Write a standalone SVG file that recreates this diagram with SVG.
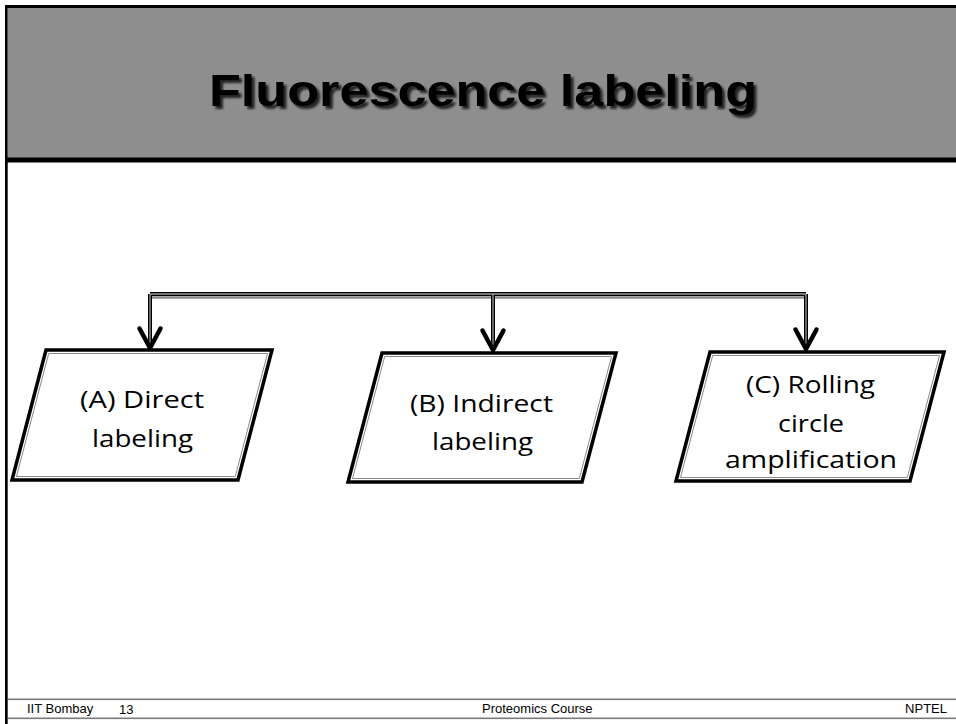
<svg xmlns="http://www.w3.org/2000/svg" width="956" height="724" viewBox="0 0 956 724">
<defs>
<filter id="tshadow" x="-10%" y="-30%" width="120%" height="160%">
<feGaussianBlur in="SourceAlpha" stdDeviation="1.2" result="b"/>
<feOffset in="b" dx="2.5" dy="2.5" result="o"/>
<feFlood flood-color="#000" flood-opacity="0.75"/>
<feComposite in2="o" operator="in" result="s"/>
<feMerge><feMergeNode in="s"/><feMergeNode in="SourceGraphic"/></feMerge>
</filter>
</defs>
<style>
.title{font-family:"Liberation Sans",Arial,sans-serif;font-weight:bold;font-size:45px;fill:#000}
.lbl{font-family:"Open Sans","Liberation Sans",sans-serif;font-size:24.5px;fill:#000;text-anchor:start}
.foot{font-family:"Liberation Sans",Arial,sans-serif;font-size:13px;fill:#000}
.outer{fill:#fff;stroke:#000;stroke-width:3.5;stroke-linejoin:miter}
.inner{fill:none;stroke:#8a8a8a;stroke-width:1}
.conn{fill:none;stroke:#000;stroke-width:4}
.connin{fill:none;stroke:#9a9a9a;stroke-width:1.3}
.shadow{fill:none;stroke:#8c8c8c;stroke-width:2.5}
.head{fill:none;stroke:#000;stroke-width:4.5;stroke-linecap:round;stroke-linejoin:miter}
</style>
<rect width="956" height="724" fill="#fff"/>
<!-- header -->
<rect x="8" y="8" width="948" height="150" fill="#8e8e8e"/>
<rect x="5" y="157.5" width="951" height="5" fill="#000"/>
<rect x="5" y="5" width="951" height="3" fill="#000"/>
<rect x="5" y="5" width="2.7" height="719" fill="#000"/>
<text class="title" x="209" y="106" textLength="548" lengthAdjust="spacingAndGlyphs" filter="url(#tshadow)">Fluorescence labeling</text>
<!-- connectors -->
<g id="connectors">
<path class="shadow" d="M152,297.5 H808"/>
<path class="conn" d="M150,294 H806 M150,294 V348 M493,294 V350 M806,294 V349"/>
<path class="connin" d="M150,294 H806 M150,294 V346 M493,294 V348 M806,294 V347"/>
<polyline class="head" points="139.5,328.5 150,348 160.5,328.5"/>
<polyline class="head" points="482.5,330.5 493,350 503.5,330.5"/>
<polyline class="head" points="795.5,329.5 806,349 816.5,329.5"/>
</g>
<g id="nodeA">
<polygon class="outer" points="46,350 272,350 238,480 12,480"/>
<polygon class="inner" points="48.7,353.5 267.5,353.5 235.3,476.5 16.5,476.5"/>
<text class="lbl" x="80" y="408" textLength="124" lengthAdjust="spacingAndGlyphs">(A) Direct</text>
<text class="lbl" x="92" y="447" textLength="101" lengthAdjust="spacingAndGlyphs">labeling</text>
</g>
<g id="nodeB">
<polygon class="outer" points="382,353 616,353 582,482 348,482"/>
<polygon class="inner" points="384.7,356.5 611.5,356.5 579.3,478.5 352.5,478.5"/>
<text class="lbl" x="410" y="411.5" textLength="143" lengthAdjust="spacingAndGlyphs">(B) Indirect</text>
<text class="lbl" x="432" y="450" textLength="101" lengthAdjust="spacingAndGlyphs">labeling</text>
</g>
<g id="nodeC">
<polygon class="outer" points="710,352 944,352 910,481 676,481"/>
<polygon class="inner" points="712.7,355.5 939.5,355.5 907.3,477.5 680.5,477.5"/>
<text class="lbl" x="746" y="393" textLength="129" lengthAdjust="spacingAndGlyphs">(C) Rolling</text>
<text class="lbl" x="778" y="431.5" textLength="66" lengthAdjust="spacingAndGlyphs">circle</text>
<text class="lbl" x="725" y="468" textLength="172" lengthAdjust="spacingAndGlyphs">amplification</text>
</g>
<!-- footer -->
<rect x="8" y="698.5" width="948" height="1.6" fill="#7a7a7a"/>
<rect x="8" y="717.5" width="948" height="1.6" fill="#7a7a7a"/>
<text class="foot" x="27" y="713">IIT Bombay</text>
<text class="foot" x="119" y="714" font-family="Open Sans">13</text>
<text class="foot" x="482" y="713">Proteomics Course</text>
<text class="foot" x="947" y="713" text-anchor="end">NPTEL</text>
</svg>
